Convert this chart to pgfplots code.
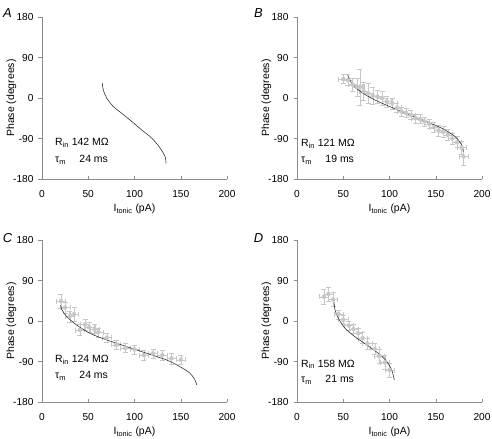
\documentclass[border=0pt]{standalone}
\usepackage{pgfplots}
\pgfplotsset{compat=1.18}
\usepackage{fontspec}
\setmainfont{Liberation Sans}
\begin{document}
\fontsize{10}{12}\selectfont
\begin{tikzpicture}
\tikzset{txt/.style={anchor=west, inner sep=0pt, font=\fontsize{10.5}{12}\selectfont}}
\pgfplotsset{
  panel/.style={
    scale only axis, width=185bp, height=162bp,
    xmin=0, xmax=200, ymin=-180, ymax=180,
    axis lines=left,
    axis line style={-, draw=black!45, line width=0.5pt},
    xtick={0,50,100,150,200}, ytick={-180,-90,0,90,180},
    tick style={draw=black!45, line width=0.5pt},
    major tick length=3.5bp,
    tick align=inside,
    ytick style={xshift=-3.5bp},
    yticklabel style={xshift=-5bp},
    xticklabel style={yshift=-7.5bp},
    /pgf/number format/assume math mode=true,
    ticklabel style={font=\fontsize{10.2}{12}\selectfont},
    label style={font=\fontsize{10.5}{12}\selectfont},
    xlabel={I\textsubscript{tonic} (pA)},
    ylabel={Phase (degrees)},
    xlabel style={at={(axis description cs:0.5,-0.185)}, anchor=center},
    ylabel style={at={(axis description cs:-0.165,0.5)}, anchor=center},
    clip=false,
  },
  bars/.style={color=black!22, line width=0.45pt, only marks, mark=none,
    error bars/.cd, x dir=both, x explicit, y dir=both, y explicit,
    error mark options={rotate=90, mark size=2.5bp, line width=0.45pt}},
  fitc/.style={black!85, line width=0.55pt, smooth, mark=none},
}
\path[use as bounding box] (0,0) rectangle (492bp,-439bp);

% Panel A
\begin{axis}[panel, at={(42bp,-179bp)}, anchor=south west]
\addplot[fitc] coordinates {(65.2,33) (66.3,18) (69.9,0) (77.1,-19) (86.2,-34) (97,-52) (107.8,-71) (118.6,-89) (127.6,-111) (133,-130) (134.1,-145)};
\node[txt] at (axis cs:14,-100) {R\textsubscript{in} 142 MΩ};
\node[txt] at (axis cs:14,-137) {\makebox[24.3bp][l]{τ\textsubscript{m}}24 ms};
\end{axis}

% Panel B
\begin{axis}[panel, at={(297bp,-179bp)}, anchor=south west]
\addplot[bars] table[x=x, y=y, x error=ex, y error=ey] {
x y ex ey
50 42 5 10
55 40 5 12
60 30 5 15
65 25 5 20
68 25 5 40
72 15 5 20
77 10 5 22
82 5 5 18
87 3 5 15
92 0 5 15
97 -8 5 12
103 -12 5 12
108 -22 5 10
113 -30 5 10
118 -33 5 10
123 -38 5 10
128 -45 5 10
133 -47 5 10
138 -52 5 10
143 -58 5 10
148 -65 5 12
153 -72 5 12
158 -75 5 12
163 -82 5 12
168 -90 5 12
173 -98 5 12
178 -110 5 15
180 -130 5 20
};
\addplot[fitc] coordinates {(54.8,50) (57,41) (59.1,33) (66.3,18) (77.1,3.3) (91.5,-11.3) (113.2,-30) (134.8,-48.4) (156.4,-67) (170.8,-85.6) (176,-98) (178,-104) (179.8,-119)};
\node[txt] at (axis cs:4.3,-102) {R\textsubscript{in} 121 MΩ};
\node[txt] at (axis cs:4.3,-137) {\makebox[24.3bp][l]{τ\textsubscript{m}}19 ms};
\end{axis}

% Panel C
\begin{axis}[panel, at={(42bp,-402bp)}, anchor=south west]
\addplot[bars] table[x=x, y=y, x error=ex, y error=ey] {
x y ex ey
20.5 44 5 15
25 30 5 12
30 10 5 12
34.6 15 5 15
41 -20 5 12
46.5 -8 5 12
51 -14 5 12
57 -18 5 10
61 -25 5 10
70 -37 5 10
80 -53 5 10
90 -60 5 10
100 -63 5 10
110 -76 5 12
120 -72 5 10
130 -76 5 12
140 -83 5 12
150 -86 5 10
};
\addplot[fitc] coordinates {(20.2,35) (21.3,26) (26.7,9.6) (37.5,-8.9) (51.9,-27.4) (69.9,-42) (91.6,-57) (113.2,-71.8) (134.8,-86.7) (149.2,-101.5) (160,-116) (165.4,-131) (167.2,-142)};
\node[txt] at (axis cs:14,-87) {R\textsubscript{in} 124 MΩ};
\node[txt] at (axis cs:14,-122) {\makebox[24.3bp][l]{τ\textsubscript{m}}24 ms};
\end{axis}

% Panel D
\begin{axis}[panel, at={(297bp,-402bp)}, anchor=south west]
\addplot[bars] table[x=x, y=y, x error=ex, y error=ey] {
x y ex ey
29 54 5 17
34 60 5 15
39 48 5 15
45 15 5 10
50 3 5 10
56 -10 5 10
61 -18 5 10
66 -27 5 12
71 -38 5 12
76 -50 5 12
84 -62 5 12
89 -78 5 15
95 -92 5 15
100 -109 5 15
};
\addplot[fitc] coordinates {(40,43) (41.1,24.4) (44.7,6) (51.9,-16) (62.7,-35) (75.3,-53) (88,-72) (97,-90) (102.4,-109) (105.2,-131)};
\node[txt] at (axis cs:4.3,-96) {R\textsubscript{in} 158 MΩ};
\node[txt] at (axis cs:4.3,-131) {\makebox[24.3bp][l]{τ\textsubscript{m}}21 ms};
\end{axis}

\node at (7.5bp,-13bp) {\fontsize{13}{15}\selectfont\textit{A}};
\node at (258.5bp,-13bp) {\fontsize{13}{15}\selectfont\textit{B}};
\node at (7.5bp,-238bp) {\fontsize{13}{15}\selectfont\textit{C}};
\node at (258.5bp,-238bp) {\fontsize{13}{15}\selectfont\textit{D}};
\end{tikzpicture}
\end{document}
